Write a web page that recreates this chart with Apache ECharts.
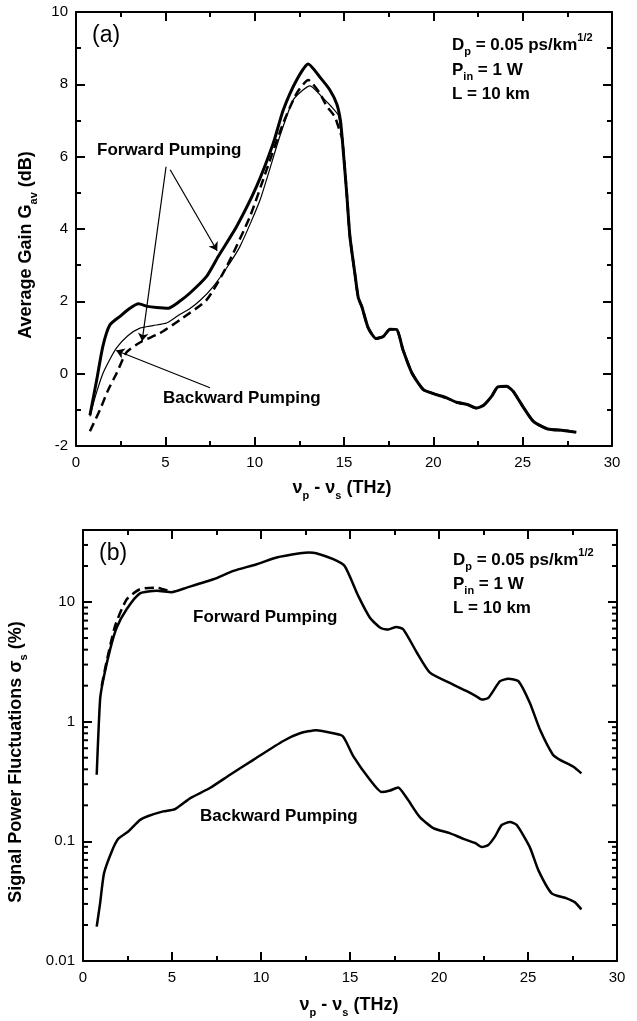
<!DOCTYPE html>
<html>
<head>
<meta charset="utf-8">
<script src="https://cdn.jsdelivr.net/npm/echarts@6/dist/echarts.min.js"></script>
<style>
  html, body { margin: 0; padding: 0; background: #fff; }
  #chart { width: 637px; height: 1021px; }
</style>
</head>
<body>
<div id="chart"></div>
<script>
// ---------- (a) average gain (dB) vs frequency shift (THz) ----------
// the three curves share the same tail above ~15 THz
var gainTail = [[14.9, 6.5], [15.15, 5.0], [15.33, 3.8], [15.6, 2.8], [15.8, 2.1], [16.0, 1.85],
  [16.36, 1.26], [16.8, 0.97], [17.2, 1.03], [17.57, 1.23], [17.95, 1.22], [18.3, 0.66],
  [18.8, 0.02], [19.44, -0.44], [20.0, -0.55], [20.74, -0.67], [21.3, -0.79], [21.95, -0.86],
  [22.4, -0.95], [22.8, -0.88], [23.26, -0.63], [23.6, -0.37], [24.1, -0.35], [24.47, -0.49],
  [25.0, -0.9], [25.6, -1.32], [26.4, -1.53], [27.27, -1.57], [28.0, -1.62]];
var gainThick = [[0.78, -1.15], [1.16, -0.17], [1.5, 0.75], [1.9, 1.35], [2.5, 1.6], [3.0, 1.8],
  [3.5, 1.93], [4.0, 1.86], [4.5, 1.83], [5.17, 1.81], [5.8, 2.0], [6.38, 2.23], [7.31, 2.69],
  [7.96, 3.24], [8.99, 4.07], [10.1, 5.17], [11.04, 6.37], [11.6, 7.29], [12.35, 8.12],
  [13.0, 8.56], [13.65, 8.2], [14.2, 7.85], [14.6, 7.45], [14.8, 7.0]];
var gainThin = [[0.78, -1.18], [1.1, -0.6], [1.5, 0.0], [1.9, 0.4], [2.28, 0.72], [2.9, 1.05],
  [3.58, 1.26], [4.3, 1.33], [5.07, 1.4], [5.7, 1.6], [6.38, 1.8], [7.0, 2.05], [7.68, 2.41],
  [8.4, 2.9], [9.18, 3.52], [10.3, 4.8], [11.4, 6.55], [12.16, 7.57], [12.72, 7.85],
  [13.1, 7.96], [13.75, 7.66], [14.3, 7.38], [14.68, 7.15], [14.8, 6.8]];
var gainDashed = [[0.78, -1.59], [1.34, -1.0], [1.8, -0.45], [2.28, 0.02], [2.84, 0.6],
  [3.68, 0.89], [4.7, 1.12], [5.82, 1.49], [7.31, 2.04], [8.43, 2.96], [9.74, 4.35],
  [10.67, 5.64], [11.6, 6.93], [12.35, 7.75], [13.0, 8.12], [13.65, 7.75], [14.03, 7.4],
  [14.49, 7.1], [14.74, 6.74]];
// annotation arrows (data coords): [from, to]
var arrowsA = [
  [[5.04, 5.72], [3.7, 0.9]],
  [[5.27, 5.64], [7.9, 3.4]],
  [[7.5, -0.39], [2.25, 0.64]]
];

// ---------- (b) signal power fluctuations (%) ----------
var sigForward = [[0.77, 0.36], [0.96, 1.53], [1.14, 2.25], [1.52, 4.0], [1.89, 6.1], [2.45, 8.7],
  [3.2, 11.8], [4.14, 12.4], [4.98, 12.1], [5.83, 13.2], [7.32, 15.5], [8.45, 18.2],
  [9.76, 20.7], [10.88, 23.6], [12.19, 25.6], [12.7, 26], [13.1, 25.6], [14.06, 22.8], [14.7, 20],
  [15.47, 11.2], [16.12, 7.4], [16.7, 6.1], [17.15, 5.9], [17.6, 6.2], [18.0, 5.9],
  [18.76, 3.77], [19.49, 2.57], [20.6, 2.11], [21.56, 1.8], [22.1, 1.63], [22.4, 1.53],
  [22.77, 1.58], [23.43, 2.18], [23.9, 2.28], [24.46, 2.18], [25.1, 1.44], [25.67, 0.86],
  [26.4, 0.53], [26.8, 0.48], [27.55, 0.42], [28.0, 0.37]];
var sigForwardDashed = [[1.05, 2.0], [1.33, 3.2], [1.8, 6.3], [2.45, 10.5], [3.2, 12.8],
  [4.14, 13.2], [4.5, 12.8], [5.0, 12.2]];
var sigBackward = [[0.77, 0.0194], [0.96, 0.0303], [1.18, 0.054], [1.61, 0.082], [1.98, 0.105],
  [2.54, 0.121], [3.2, 0.151], [3.67, 0.163], [4.51, 0.178], [5.17, 0.186], [6.03, 0.23],
  [7.13, 0.279], [8.26, 0.36], [9.57, 0.48], [11.25, 0.69], [12.19, 0.8], [13.1, 0.85],
  [14.06, 0.8], [14.6, 0.755], [15.2, 0.51], [16.12, 0.327], [16.78, 0.258], [17.25, 0.266],
  [17.7, 0.282], [18.19, 0.23], [18.9, 0.161], [19.68, 0.129], [20.6, 0.117], [21.37, 0.105],
  [22.02, 0.097], [22.4, 0.0895], [22.77, 0.0933], [23.15, 0.11], [23.52, 0.137],
  [23.99, 0.145], [24.37, 0.137], [25.1, 0.0895], [25.58, 0.0575], [26.33, 0.0368],
  [27.17, 0.0334], [27.64, 0.0309], [28.0, 0.027]];

// log minor tick values 2..9 x 10^k
var logMinorValues = [];
[0.01, 0.1, 1, 10].forEach(function (d) {
  for (var m = 2; m <= 9; m++) {
    if (m * d < 40) logMinorValues.push(+(m * d).toPrecision(2));
  }
});

var FONT = "'Liberation Sans', Arial, Helvetica, sans-serif";

function richFor(size) {
  var sub = Math.round(size * 0.62);
  return {
    b: { fontFamily: FONT, fontSize: size, fontWeight: 'bold', color: '#000', lineHeight: size + 8, verticalAlign: 'middle' },
    s: { fontFamily: FONT, fontSize: sub, fontWeight: 'bold', color: '#000', lineHeight: sub, verticalAlign: 'bottom' },
    u: { fontFamily: FONT, fontSize: sub, fontWeight: 'bold', color: '#000', lineHeight: sub, verticalAlign: 'top' }
  };
}

function label(x, y, text, opts) {
  opts = opts || {};
  var size = opts.size || 17;
  return {
    type: 'text', x: x, y: y, rotation: opts.rotation || 0, silent: true,
    style: {
      text: text, rich: richFor(size), align: opts.align || 'left', verticalAlign: 'middle',
      font: 'bold ' + size + 'px ' + FONT, fill: '#000'
    }
  };
}

var tickLine = { color: '#000', width: 2 };
var tickStyle = { inside: true, length: 9, lineStyle: tickLine };
var minorStyle = { show: true, splitNumber: 2, length: 5, lineStyle: tickLine };
var lineStyleAxis = { onZero: false, lineStyle: { color: '#000', width: 2 } };
var labelStyle = { color: '#000', fontFamily: FONT, fontSize: 15, margin: 8, showMinLabel: true, showMaxLabel: true };

function xAxisPair(grid) {
  var base = {
    gridIndex: grid, type: 'value', min: 0, max: 30, interval: 5,
    axisLine: lineStyleAxis, axisTick: tickStyle, minorTick: minorStyle,
    splitLine: { show: false }
  };
  return [
    Object.assign({}, base, {
      position: 'bottom',
      axisLabel: Object.assign({}, labelStyle, { margin: 9 })
    }),
    Object.assign({}, base, { position: 'top', axisLabel: { show: false } })
  ];
}

function isDecade(v) {
  var e = Math.log10(v);
  return Math.abs(e - Math.round(e)) < 1e-6;
}

var texts = [
  // panel (a)
  { type: 'text', x: 92, y: 36, silent: true, style: { text: '(a)', font: '23px ' + FONT, fill: '#000', verticalAlign: 'middle' } },
  label(452, 45, '{b|D}{s|p}{b| = 0.05 ps/km}{u|1/2}'),
  label(452, 70, '{b|P}{s|in}{b| = 1 W}'),
  label(452, 94, '{b|L = 10 km}'),
  label(97, 150, '{b|Forward Pumping}'),
  label(163, 398, '{b|Backward Pumping}'),
  label(342, 488, '{b|ν}{s|p}{b| - ν}{s|s}{b| (THz)}', { align: 'center', size: 18 }),
  label(26, 245, '{b|Average Gain G}{s|av}{b| (dB)}', { align: 'center', size: 18, rotation: Math.PI / 2 }),
  // panel (b)
  { type: 'text', x: 99, y: 554, silent: true, style: { text: '(b)', font: '23px ' + FONT, fill: '#000', verticalAlign: 'middle' } },
  label(453, 560, '{b|D}{s|p}{b| = 0.05 ps/km}{u|1/2}'),
  label(453, 584, '{b|P}{s|in}{b| = 1 W}'),
  label(453, 608, '{b|L = 10 km}'),
  label(193, 617, '{b|Forward Pumping}'),
  label(200, 816, '{b|Backward Pumping}'),
  label(349, 1005, '{b|ν}{s|p}{b| - ν}{s|s}{b| (THz)}', { align: 'center', size: 18 }),
  label(16, 762, '{b|Signal Power Fluctuations σ}{s|s}{b| (%)}', { align: 'center', size: 18, rotation: Math.PI / 2 })
];

var option = {
  animation: false,
  backgroundColor: '#fff',
  grid: [
    { left: 76, top: 12, width: 536, height: 434, outerBoundsMode: 'none' },
    { left: 83, top: 530, width: 534, height: 431, outerBoundsMode: 'none' }
  ],
  xAxis: xAxisPair(0).concat(xAxisPair(1)),
  yAxis: [
    {
      gridIndex: 0, type: 'value', min: -2, max: 10, interval: 2, position: 'left',
      axisLine: lineStyleAxis, axisTick: tickStyle, minorTick: minorStyle,
      axisLabel: labelStyle, splitLine: { show: false }
    },
    {
      gridIndex: 0, type: 'value', min: -2, max: 10, interval: 2, position: 'right',
      axisLine: lineStyleAxis, axisTick: tickStyle, minorTick: minorStyle,
      axisLabel: { show: false }, splitLine: { show: false }
    },
    {
      gridIndex: 1, type: 'log', logBase: 10, min: 0.01, max: 40, position: 'left',
      axisLine: lineStyleAxis, axisTick: tickStyle,
      axisLabel: Object.assign({}, labelStyle, {
        formatter: function (v) { return isDecade(v) ? String(+(+v).toPrecision(3)) : ''; }
      }),
      splitLine: { show: false }
    },
    {
      gridIndex: 1, type: 'log', logBase: 10, min: 0.01, max: 40, position: 'right',
      axisLine: lineStyleAxis, axisTick: tickStyle,
      axisLabel: { show: false }, splitLine: { show: false }
    }
  ],
  graphic: texts,
  series: [
    {
      type: 'line', xAxisIndex: 0, yAxisIndex: 0, data: gainThick.concat(gainTail),
      showSymbol: false, smooth: 0.2, lineStyle: { color: '#000', width: 3 },
      markLine: {
        silent: true, symbol: ['none', 'arrow'], symbolSize: 8,
        lineStyle: { color: '#000', width: 1.2, type: 'solid' }, label: { show: false },
        data: arrowsA.map(function (a) { return [{ coord: a[0] }, { coord: a[1] }]; })
      }
    },
    {
      type: 'line', xAxisIndex: 0, yAxisIndex: 0, data: gainThin.concat(gainTail),
      showSymbol: false, smooth: 0.2, lineStyle: { color: '#000', width: 1.2 }
    },
    {
      type: 'line', xAxisIndex: 0, yAxisIndex: 0, data: gainDashed.concat(gainTail),
      showSymbol: false, smooth: 0.2, lineStyle: { color: '#000', width: 2.5, type: [9, 5] }
    },
    {
      type: 'line', xAxisIndex: 2, yAxisIndex: 2, data: sigForward,
      showSymbol: false, smooth: 0.2, lineStyle: { color: '#000', width: 2.5 }
    },
    {
      type: 'line', xAxisIndex: 2, yAxisIndex: 2, data: sigForwardDashed,
      showSymbol: false, smooth: 0.2, lineStyle: { color: '#000', width: 2.5, type: [9, 5] }
    },
    {
      type: 'line', xAxisIndex: 2, yAxisIndex: 2, data: sigBackward,
      showSymbol: false, smooth: 0.2, lineStyle: { color: '#000', width: 2.5 }
    }
  ]
};

var myChart = echarts.init(document.getElementById('chart'));
myChart.setOption(option);

// minor ticks of the log axis (2..9 per decade), placed through the axis scale
var minorTicks = [];
logMinorValues.forEach(function (v) {
  var l = myChart.convertToPixel({ xAxisIndex: 2, yAxisIndex: 2 }, [0, v]);
  var r = myChart.convertToPixel({ xAxisIndex: 2, yAxisIndex: 2 }, [30, v]);
  if (!l || !r) return;
  minorTicks.push(
    { type: 'line', silent: true, shape: { x1: l[0], y1: l[1], x2: l[0] + 5, y2: l[1] }, style: { stroke: '#000', lineWidth: 2 } },
    { type: 'line', silent: true, shape: { x1: r[0], y1: r[1], x2: r[0] - 5, y2: r[1] }, style: { stroke: '#000', lineWidth: 2 } }
  );
});
myChart.setOption({ graphic: texts.concat(minorTicks) });
</script>
</body>
</html>
